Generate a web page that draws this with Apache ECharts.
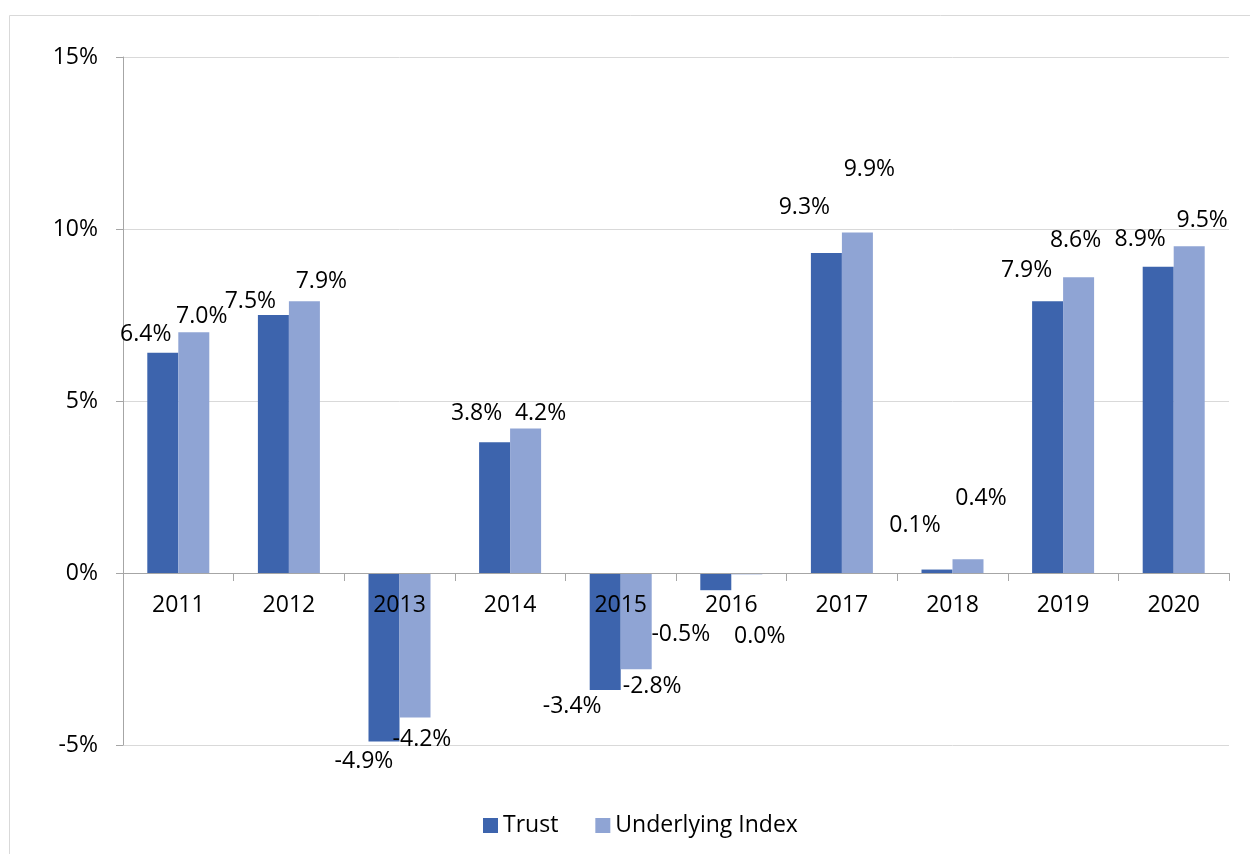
<!DOCTYPE html>
<html>
<head>
<meta charset="utf-8">
<script src="https://cdn.jsdelivr.net/npm/echarts@6/dist/echarts.min.js"></script>
<style>
  html, body { margin: 0; padding: 0; background: #fff; }
  #chart { width: 1250px; height: 854px; }
</style>
</head>
<body>
<div id="chart"></div>
<script>
const years = ['2011', '2012', '2013', '2014', '2015', '2016', '2017', '2018', '2019', '2020'];
const trust = [6.4, 7.5, -4.9, 3.8, -3.4, -0.5, 9.3, 0.1, 7.9, 8.9];
const underlying = [7.0, 7.9, -4.2, 4.2, -2.8, -0.04, 9.9, 0.4, 8.6, 9.5];
const yTicks = [-5, 0, 5, 10, 15];

// hand-placed label offsets, like the source chart
const trustLabelOffsets = [[-17, -2], [-23, 2], [-20, 4], [-18, -13], [-33, 0], [-35, 28], [-22, -30], [-22, -28], [-21, -15], [-18, -11]];
const underlyingLabelOffsets = [[8, 0], [17, -4], [7, 6], [15, 1], [16, 1], [13, 46], [12, -47], [13, -45], [-3, -21], [13, -10]];

const FONT = '"Open Sans", "Liberation Sans", sans-serif';
const FONT_SIZE = 23;

function fmtPct(v) {
  const s = v.toFixed(1);
  return (s === '-0.0' ? '0.0' : s) + '%';
}

function buildData(values, offsets) {
  return values.map((v, i) => ({
    value: v,
    label: {
      position: v < 0 ? 'bottom' : 'top',
      offset: offsets[i],
    },
  }));
}

function buildSeries(name, color, values, offsets) {
  return {
    name,
    type: 'bar',
    barWidth: 31,
    barGap: '0%',
    itemStyle: { color },
    label: {
      show: true,
      distance: 5,
      color: '#000',
      fontFamily: FONT,
      fontSize: FONT_SIZE,
      lineHeight: 22,
      formatter: (p) => fmtPct(p.value),
    },
    data: buildData(values, offsets),
  };
}

const chart = echarts.init(document.getElementById('chart'));
chart.setOption({
  animation: false,
  textStyle: { fontFamily: FONT },
  graphic: [{
    type: 'rect',
    shape: { x: 9.5, y: 15.5, width: 1300, height: 900 },
    style: { fill: 'none', stroke: '#d9d9d9', lineWidth: 1 },
    silent: true,
    z: -10,
  }],
  grid: {
    left: 123, right: 21, top: 57, bottom: 109,
  },
  legend: {
    left: 478,
    top: 809,
    itemWidth: 15,
    itemHeight: 15,
    itemGap: 37,
    icon: 'rect',
    textStyle: { fontFamily: FONT, fontSize: FONT_SIZE, color: '#000' },
    data: ['Trust', 'Underlying Index'],
  },
  xAxis: {
    type: 'category',
    data: years,
    z: 5, // year labels are drawn over the negative bars
    // sit the axis on the zero line (grid bottom is -5%, one 5% step = 172px)
    offset: -172,
    axisLine: { onZero: false, lineStyle: { color: '#a6a6a6', width: 1 } },
    axisTick: { show: true, length: 8, lineStyle: { color: '#a6a6a6' } },
    axisLabel: {
      color: '#000', fontFamily: FONT, fontSize: FONT_SIZE, margin: 21,
    },
    splitLine: { show: false },
  },
  yAxis: {
    type: 'value',
    min: yTicks[0],
    max: yTicks[yTicks.length - 1],
    interval: 5,
    axisLine: { show: true, lineStyle: { color: '#a6a6a6', width: 1 } },
    axisTick: { show: true, length: 7, lineStyle: { color: '#a6a6a6' } },
    axisLabel: {
      color: '#000',
      fontFamily: FONT,
      fontSize: FONT_SIZE,
      margin: 25,
      formatter: (v) => `${v}%`,
    },
    splitLine: { lineStyle: { color: '#d9d9d9', width: 1 } },
  },
  series: [
    buildSeries('Trust', '#3d64ad', trust, trustLabelOffsets),
    buildSeries('Underlying Index', '#8fa4d4', underlying, underlyingLabelOffsets),
  ],
});
</script>
</body>
</html>
